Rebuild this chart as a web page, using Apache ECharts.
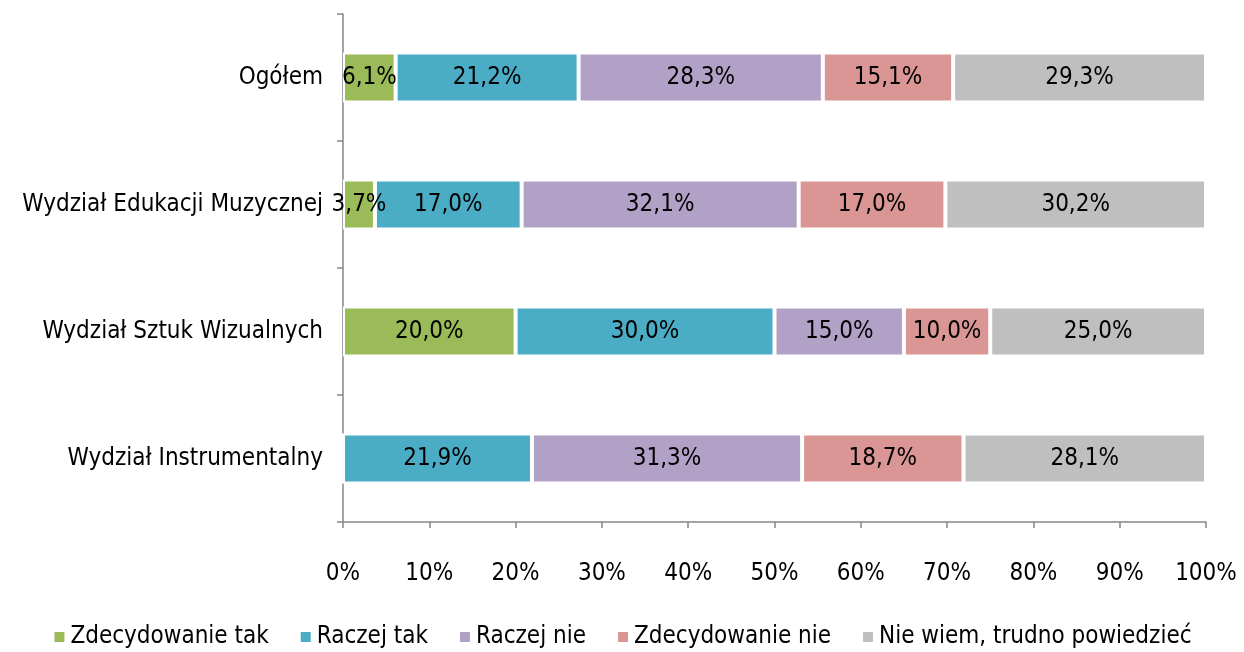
<!DOCTYPE html>
<html>
<head>
<meta charset="utf-8">
<script src="https://cdn.jsdelivr.net/npm/echarts@6/dist/echarts.min.js"></script>
<style>
  html, body { margin: 0; padding: 0; background: #fff; }
  #chart { width: 1244px; height: 652px; }
</style>
</head>
<body>
<div id="chart"></div>
<script>
// categories bottom -> top (ECharts category axis starts at the bottom)
let categories = ['Wydział Instrumentalny', 'Wydział Sztuk Wizualnych', 'Wydział Edukacji Muzycznej', 'Ogółem'];
let seriesNames = ['Zdecydowanie tak', 'Raczej tak', 'Raczej nie', 'Zdecydowanie nie', 'Nie wiem, trudno powiedzieć'];
let zdecydowanieTak = [0, 20.0, 3.7, 6.1];
let raczejTak = [21.9, 30.0, 17.0, 21.2];
let raczejNie = [31.3, 15.0, 32.1, 28.3];
let zdecydowanieNie = [18.7, 10.0, 17.0, 15.1];
let nieWiem = [28.1, 25.0, 30.2, 29.3];
let colors = ['#9BBB59', '#4BACC6', '#B2A1C7', '#D99694', '#BFBFBF'];

let font = 'Tahoma, "DejaVu Sans Condensed", "DejaVu Sans", sans-serif';
let myChart = echarts.init(document.getElementById('chart'));

let allData = [zdecydowanieTak, raczejTak, raczejNie, zdecydowanieNie, nieWiem];
let series = allData.map(function (vals, i) {
    return {
        name: seriesNames[i],
        type: 'bar',
        stack: 'total',
        barWidth: 50,
        data: vals,
        itemStyle: {
            color: colors[i],
            borderColor: '#fff',
            borderWidth: 2
        },
        label: {
            show: true,
            position: 'inside',
            color: '#000',
            fontFamily: font,
            fontSize: 24,
            formatter: function (p) {
                if (!p.value) return '';
                return p.value.toFixed(1).replace('.', ',') + '%';
            }
        }
    };
});

let option = {
    animation: false,
    color: colors,
    grid: {
        left: 343,
        right: 38,
        top: 14,
        bottom: 130
    },
    legend: {
        bottom: -2,
        left: 'center',
        itemWidth: 12,
        itemHeight: 12,
        itemGap: 30,
        icon: 'rect',
        textStyle: { fontFamily: font, fontSize: 24, color: '#000' },
        data: seriesNames
    },
    xAxis: {
        type: 'value',
        min: 0,
        max: 100,
        interval: 10,
        axisLine: { show: true, lineStyle: { color: '#868686', width: 1.5 } },
        axisTick: { show: true, length: 6, lineStyle: { color: '#868686', width: 1.5 } },
        splitLine: { show: false },
        axisLabel: {
            margin: 40,
            color: '#000',
            fontFamily: font,
            fontSize: 24,
            formatter: '{value}%'
        }
    },
    yAxis: {
        type: 'category',
        data: categories,
        axisLine: { show: true, lineStyle: { color: '#868686', width: 1.5 } },
        axisTick: { show: true, length: 6, lineStyle: { color: '#868686', width: 1.5 } },
        axisLabel: {
            margin: 20,
            color: '#000',
            fontFamily: font,
            fontSize: 24
        }
    },
    series: series
};
myChart.setOption(option);
</script>
</body>
</html>
